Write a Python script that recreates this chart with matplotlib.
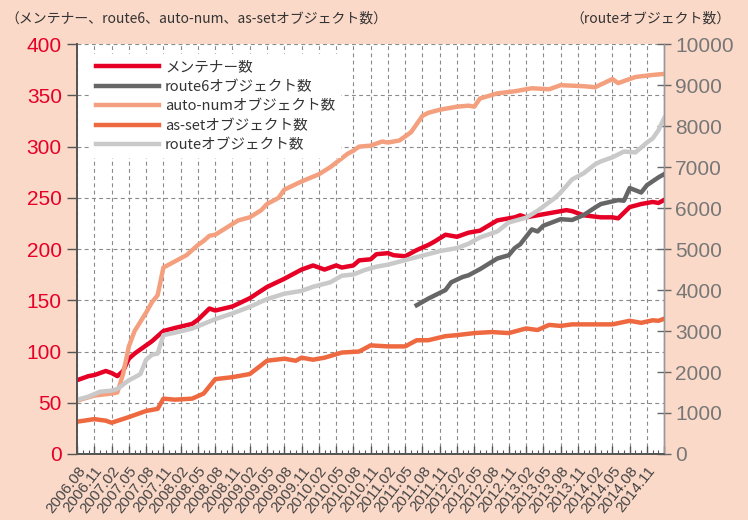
import matplotlib
matplotlib.use("Agg")
import matplotlib.pyplot as plt
from matplotlib.ticker import MultipleLocator

# month index: 0 = 2006.08
tick_labels = [
    "2006.08", "2006.11", "2007.02", "2007.05", "2007.08", "2007.11",
    "2008.02", "2008.05", "2008.08", "2008.11", "2009.02", "2009.05",
    "2009.08", "2009.11", "2010.02", "2010.05", "2010.08", "2010.11",
    "2011.02", "2011.05", "2011.08", "2011.11", "2012.02", "2012.05",
    "2012.08", "2012.11", "2013.02", "2013.05", "2013.08", "2013.11",
    "2014.02", "2014.05", "2014.08", "2014.11",
]

# メンテナー数 (left axis)
maint_month = [0, 2, 3, 5, 6, 7, 8, 9, 10, 11, 12, 13, 14, 15, 17, 20, 21, 23, 24, 27,
               30, 33, 36, 39, 41, 43, 45, 46, 48, 49, 51, 52, 54, 55, 57, 59, 61, 62,
               64, 66, 68, 70, 73, 76, 77, 78, 81, 83, 85, 86, 88, 91, 93, 94, 96, 98,
               100, 101, 102]
maint_value = [72, 76, 77, 81, 79, 76, 81, 93, 98, 102, 106, 110, 115, 120, 123, 127, 131,
               142, 140, 144, 152, 163, 171, 180, 184, 180, 184, 182, 184, 189, 190, 195,
               196, 194, 193, 199, 204, 207, 214, 212, 216, 218, 228, 231, 233, 231, 234,
               236, 238, 237, 233, 231, 231, 230, 241, 244, 246, 245, 248]

# route6オブジェクト数 (right axis)
route6_month = [59, 61, 64, 65, 67, 68, 70, 73, 75, 76, 77, 78, 79, 80, 81, 84, 86, 88,
                90, 91, 94, 95, 96, 98, 99, 101, 102]
route6_value = [3630, 3790, 4000, 4190, 4320, 4360, 4510, 4770, 4850, 5020, 5120, 5300,
                5480, 5430, 5570, 5730, 5710, 5830, 6015, 6100, 6195, 6180, 6490, 6380,
                6560, 6750, 6830]

# auto-numオブジェクト数 (left axis)
autonum_month = [0, 3, 6, 7, 8, 9, 10, 12, 13, 14, 15, 17, 19, 20, 21, 22, 23, 24, 26, 28,
                 30, 32, 33, 35, 36, 39, 42, 44, 47, 48, 49, 51, 53, 54, 56, 58, 60, 61,
                 63, 66, 68, 69, 70, 73, 76, 79, 82, 84, 88, 90, 93, 94, 97, 100, 102]
autonum_value = [52, 57, 59, 60, 78, 105, 120, 138, 148, 155, 182, 188, 194, 199, 204, 208,
                 213, 214, 221, 228, 231, 238, 244, 250, 258, 266, 273, 280, 293, 296, 300,
                 301, 305, 304, 306, 314, 330, 333, 336, 339, 340, 339, 347, 352, 354, 357,
                 356, 360, 359, 358, 366, 362, 368, 370, 371]

# as-setオブジェクト数 (left axis)
asset_month = [0, 3, 5, 6, 9, 12, 14, 15, 17, 20, 22, 24, 27, 30, 33, 36, 38, 39, 41, 43,
               46, 49, 51, 54, 57, 59, 61, 64, 66, 69, 72, 75, 78, 80, 82, 84, 86, 93, 96,
               98, 100, 101, 102]
asset_value = [31.5, 34, 32.5, 30.5, 36, 42, 44, 54, 53, 54, 59, 73, 75, 78, 91, 93, 91, 94,
               92, 94, 99, 100, 106, 105, 105, 111, 111, 115, 116, 118, 119, 118, 122.5,
               121, 126, 125, 126.5, 126.5, 130, 128, 130.5, 130, 132]

# routeオブジェクト数 (right axis)
route_month = [0, 2, 4, 6, 7, 9, 10, 11, 12, 13, 14, 15, 17, 20, 24, 27, 30, 33, 36, 39,
               41, 44, 46, 48, 50, 52, 54, 57, 60, 63, 66, 68, 70, 73, 75, 78, 80, 83, 84,
               86, 88, 90, 91, 93, 95, 97, 99, 100, 101, 102]
route_value = [1320, 1400, 1520, 1545, 1585, 1800, 1870, 1950, 2300, 2420, 2450, 2900, 2960,
               3060, 3290, 3430, 3590, 3780, 3910, 3980, 4080, 4190, 4350, 4380, 4490, 4570,
               4620, 4730, 4840, 4950, 5025, 5130, 5285, 5430, 5650, 5765, 5935, 6245, 6380,
               6700, 6850, 7070, 7140, 7240, 7380, 7360, 7600, 7700, 7900, 8200]

BG = "#FBD9C8"
RED = "#E60026"
jp = ["Noto Sans CJK JP", "DejaVu Sans"]

fig = plt.figure(figsize=(7.48, 5.2), dpi=100, facecolor=BG)
ax = fig.add_axes([0.103, 0.127, 0.785, 0.788])
ax.set_facecolor("white")
ax2 = ax.twinx()

lw = 3.2
l1, = ax.plot(maint_month, maint_value, color=RED, lw=lw, label="メンテナー数", zorder=4)
l3, = ax.plot(autonum_month, autonum_value, color="#F4A07E", lw=lw,
              label="auto-numオブジェクト数", zorder=5)
l4, = ax.plot(asset_month, asset_value, color="#EE6840", lw=lw,
              label="as-setオブジェクト数", zorder=3)
l5, = ax2.plot(route_month, route_value, color="#C9C9C9", lw=lw,
               label="routeオブジェクト数", zorder=2)
l2, = ax2.plot(route6_month, route6_value, color="#666666", lw=lw,
               label="route6オブジェクト数", zorder=3)

ax.set_xlim(0, 102)
ax.set_ylim(0, 400)
ax2.set_ylim(0, 10000)

ax.set_xticks(range(0, 103, 3))
ax.set_xticklabels(tick_labels + [""], rotation=52, ha="right", va="top",
                   rotation_mode="anchor", fontsize=11, color="#444444",
                   family="Liberation Sans")
ax.xaxis.set_minor_locator(MultipleLocator(1))
ax.tick_params(axis="x", which="major", direction="in", length=6, width=1,
               color="#555555", pad=7)
ax.tick_params(axis="x", which="minor", direction="in", length=3, width=0.8,
               color="#555555")

ax.set_yticks(range(0, 401, 50))
ax.tick_params(axis="y", direction="out", length=7, width=1, color="#555555",
               labelcolor=RED, labelsize=15, pad=4)
for t in ax.get_yticklabels():
    t.set_family("Liberation Sans")

ax2.set_yticks(range(0, 10001, 1000))
ax2.tick_params(axis="y", direction="inout", length=10, width=1, color="#666666",
                labelcolor="#777777", labelsize=15, pad=3)
for t in ax2.get_yticklabels():
    t.set_family("Liberation Sans")

ax.grid(True, which="major", color="#8a8a8a", lw=0.8, linestyle=(0, (3.5, 3)))
ax.set_axisbelow(True)

for a in (ax, ax2):
    a.spines["top"].set_visible(False)
    a.spines["left"].set_color("#555555")
    a.spines["left"].set_linewidth(1.3)
    a.spines["bottom"].set_color("#555555")
    a.spines["bottom"].set_linewidth(1.3)
    a.spines["right"].set_color("#999999")
    a.spines["right"].set_linewidth(1)

leg = ax2.legend(handles=[l1, l2, l3, l4, l5], loc="upper left",
                 bbox_to_anchor=(0.022, 0.975), borderaxespad=0, frameon=True,
                 facecolor="white", edgecolor="none", framealpha=1, fancybox=False,
                 handlelength=4.3, handletextpad=0.45, labelspacing=0.38,
                 prop={"family": jp, "size": 10.5})
for t in leg.get_texts():
    t.set_color("#333333")

fig.text(0.007, 0.965, "（メンテナー、route6、auto-num、as-setオブジェクト数）",
         family=jp, fontsize=10, color="#333333", va="center", ha="left")
fig.text(0.977, 0.965, "（routeオブジェクト数）", family=jp, fontsize=10,
         color="#333333", va="center", ha="right")

fig.savefig("out.png", dpi=100, facecolor=BG)
